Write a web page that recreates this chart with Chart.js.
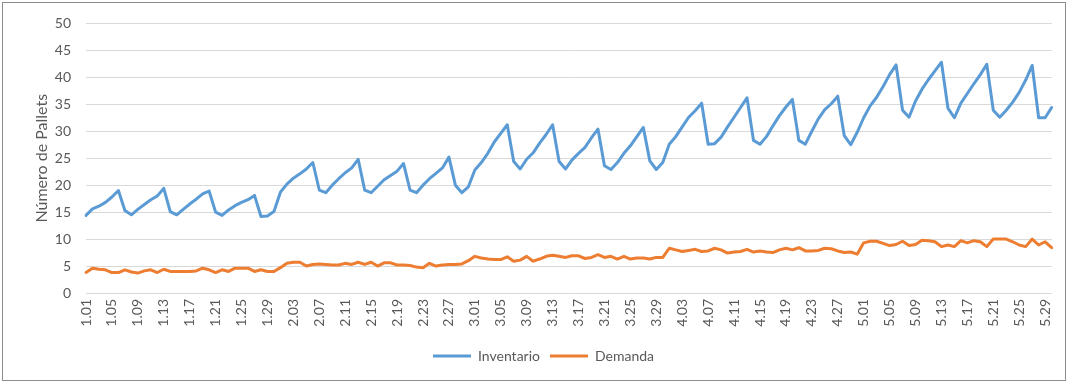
<!DOCTYPE html>
<html>
<head>
<meta charset="utf-8">
<script src="https://cdn.jsdelivr.net/npm/chart.js@4/dist/chart.umd.min.js"></script>
<style>
  html, body { margin: 0; padding: 0; background: #ffffff; }
  #wrap { width: 1068px; height: 383px; }
</style>
</head>
<body>
<div id="wrap"><canvas id="chart" width="1068" height="383"></canvas></div>
<script>
// Simulated calendar: five months of 30 days, labelled "mes.día"
const months = [1, 2, 3, 4, 5];
const daysPerMonth = 30;
const categories = [];
for (const m of months) {
  for (let d = 1; d <= daysPerMonth; d++) {
    categories.push(m + '.' + String(d).padStart(2, '0'));
  }
}

// Inventario (pallets en almacén), one value per day
const inventario = [
  // enero
  14.4, 15.6, 16.1, 16.8, 17.8, 19.0, 15.3, 14.5, 15.5, 16.4,
  17.3, 18.0, 19.4, 15.1, 14.5, 15.5, 16.5, 17.4, 18.4, 18.9,
  15.0, 14.4, 15.4, 16.2, 16.8, 17.3, 18.1, 14.2, 14.3, 15.1,
  // febrero
  18.7, 20.2, 21.3, 22.1, 23.0, 24.2, 19.1, 18.6, 20.0, 21.2,
  22.3, 23.2, 24.8, 19.1, 18.6, 19.8, 21.0, 21.8, 22.6, 24.0,
  19.1, 18.6, 20.0, 21.2, 22.2, 23.2, 25.2, 20.0, 18.6, 19.7,
  // marzo
  22.8, 24.2, 25.9, 28.0, 29.6, 31.2, 24.4, 23.0, 24.8, 26.0,
  27.8, 29.4, 31.2, 24.4, 23.0, 24.7, 25.9, 27.0, 28.8, 30.4,
  23.6, 22.9, 24.2, 25.9, 27.3, 29.0, 30.7, 24.5, 22.9, 24.2,
  // abril
  27.6, 29.0, 30.8, 32.6, 33.8, 35.2, 27.6, 27.7, 28.9, 30.8,
  32.6, 34.4, 36.2, 28.3, 27.6, 29.0, 31.0, 32.9, 34.5, 35.9,
  28.3, 27.6, 30.0, 32.3, 34.0, 35.1, 36.5, 29.2, 27.5, 29.8,
  // mayo
  32.5, 34.7, 36.3, 38.3, 40.5, 42.3, 33.9, 32.6, 35.6, 37.8,
  39.6, 41.2, 42.8, 34.3, 32.5, 35.2, 37.0, 38.8, 40.5, 42.4,
  33.9, 32.6, 33.9, 35.4, 37.2, 39.5, 42.2, 32.5, 32.5, 34.4
];

// Demanda diaria (pallets)
const demanda = [
  // enero
  3.8, 4.6, 4.4, 4.3, 3.8, 3.8, 4.3, 3.9, 3.7, 4.1,
  4.3, 3.8, 4.4, 4.0, 4.0, 4.0, 4.0, 4.1, 4.6, 4.3,
  3.8, 4.3, 4.0, 4.6, 4.6, 4.6, 4.0, 4.3, 4.0, 4.0,
  // febrero
  4.7, 5.5, 5.7, 5.7, 5.0, 5.3, 5.4, 5.3, 5.2, 5.2,
  5.5, 5.3, 5.7, 5.3, 5.7, 5.0, 5.6, 5.6, 5.2, 5.2,
  5.1, 4.8, 4.7, 5.5, 5.0, 5.2, 5.3, 5.3, 5.4, 6.0,
  // marzo
  6.8, 6.5, 6.3, 6.2, 6.2, 6.7, 5.9, 6.1, 6.8, 5.9,
  6.3, 6.8, 7.0, 6.8, 6.6, 6.9, 6.9, 6.4, 6.6, 7.1,
  6.6, 6.8, 6.3, 6.8, 6.3, 6.5, 6.5, 6.3, 6.6, 6.6,
  // abril
  8.3, 8.0, 7.7, 7.9, 8.1, 7.7, 7.8, 8.3, 8.0, 7.4,
  7.6, 7.7, 8.1, 7.6, 7.8, 7.6, 7.5, 8.0, 8.3, 8.0,
  8.4, 7.8, 7.8, 7.9, 8.3, 8.2, 7.8, 7.5, 7.6, 7.2,
  // mayo
  9.3, 9.6, 9.6, 9.2, 8.8, 9.0, 9.6, 8.8, 9.0, 9.8,
  9.7, 9.5, 8.6, 8.9, 8.6, 9.7, 9.3, 9.7, 9.5, 8.6,
  10.0, 10.0, 10.0, 9.5, 8.9, 8.6, 10.0, 8.9, 9.5, 8.4
];

// Value axis ticks
const yTicks = [0, 5, 10, 15, 20, 25, 30, 35, 40, 45, 50];
const labelEvery = 4;

const seriesNames = ['Inventario', 'Demanda'];
const seriesColors = ['#5b9bd5', '#ed7d31'];
const textColor = '#595959';
const fontFamily = 'Lato, "Open Sans", "Liberation Sans", sans-serif';

// Thin frame around the whole chart area
const framePlugin = {
  id: 'frame',
  afterDraw(chart) {
    const ctx = chart.ctx;
    ctx.save();
    ctx.strokeStyle = '#8c8c8c';
    ctx.lineWidth = 1;
    ctx.strokeRect(2.5, 2.5, chart.width - 5, chart.height - 5);
    ctx.restore();
  }
};

new Chart(document.getElementById('chart'), {
  type: 'line',
  data: {
    labels: categories,
    datasets: [
      {
        label: seriesNames[0],
        data: inventario,
        borderColor: seriesColors[0],
        backgroundColor: seriesColors[0],
        borderWidth: 3,
        pointRadius: 0,
        tension: 0,
        borderJoinStyle: 'round',
        borderCapStyle: 'round'
      },
      {
        label: seriesNames[1],
        data: demanda,
        borderColor: seriesColors[1],
        backgroundColor: seriesColors[1],
        borderWidth: 3,
        pointRadius: 0,
        tension: 0,
        borderJoinStyle: 'round',
        borderCapStyle: 'round'
      }
    ]
  },
  options: {
    responsive: false,
    devicePixelRatio: 1,
    animation: false,
    layout: { padding: { left: 29, right: 10, top: 22, bottom: 10 } },
    plugins: {
      tooltip: { enabled: false },
      legend: {
        position: 'bottom',
        labels: {
          color: textColor,
          font: { family: fontFamily, size: 14 },
          boxWidth: 38,
          boxHeight: 3,
          padding: 10,
          generateLabels(chart) {
            const items = Chart.defaults.plugins.legend.labels.generateLabels(chart);
            items.forEach(it => { it.lineWidth = 0; });
            return items;
          }
        }
      }
    },
    scales: {
      x: {
        type: 'category',
        grid: { display: false, drawTicks: false },
        border: { display: false },
        ticks: {
          autoSkip: false,
          minRotation: 90,
          maxRotation: 90,
          padding: 6,
          color: textColor,
          font: { family: fontFamily, size: 14 },
          callback(value, index) {
            return index % labelEvery === 0 ? categories[index] : null;
          }
        },
        afterFit(scale) { scale.height = 46; }
      },
      y: {
        min: yTicks[0],
        max: yTicks[yTicks.length - 1],
        afterBuildTicks(scale) { scale.ticks = yTicks.map(v => ({ value: v })); },
        grid: { color: '#d9d9d9', lineWidth: 1, drawTicks: false },
        border: { display: false },
        ticks: {
          padding: 15,
          color: textColor,
          font: { family: fontFamily, size: 14 }
        },
        title: {
          display: true,
          text: 'Número de Pallets',
          color: textColor,
          font: { family: fontFamily, size: 16 },
          padding: { top: 3, bottom: 0 }
        },
        afterFit(scale) { scale.width = 57; }
      }
    }
  },
  plugins: [framePlugin]
});
</script>
</body>
</html>
